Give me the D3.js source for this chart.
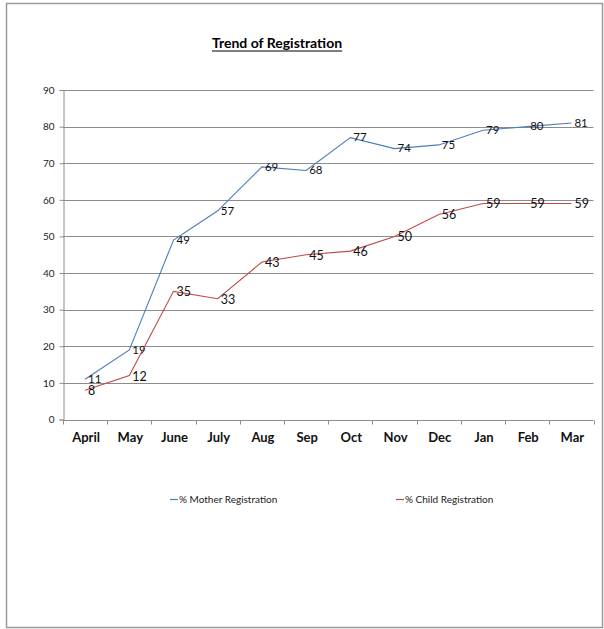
<!DOCTYPE html>
<html>
<head>
<meta charset="utf-8">
<script src="https://cdn.jsdelivr.net/npm/d3@7"></script>
<style>
  html, body { margin: 0; padding: 0; background: #fff; }
  svg { display: block; font-family: Lato, "Open Sans", sans-serif; }
</style>
</head>
<body>
<svg id="chart" width="604" height="629"></svg>
<script>
// Monthly registration percentages
const months = ["April", "May", "June", "July", "Aug", "Sep", "Oct", "Nov", "Dec", "Jan", "Feb", "Mar"];
const motherReg = [11, 19, 49, 57, 69, 68, 77, 74, 75, 79, 80, 81];
const childReg = [8, 12, 35, 33, 43, 45, 46, 50, 56, 59, 59, 59];
const yTicks = [0, 10, 20, 30, 40, 50, 60, 70, 80, 90];
const seriesNames = ["% Mother Registration", "% Child Registration"];

const svg = d3.select("#chart");

// outer frame
svg.append("rect")
  .attr("x", 6.5).attr("y", 3.5)
  .attr("width", 596).attr("height", 624)
  .attr("fill", "none").attr("stroke", "#9a9a9a").attr("stroke-width", 1.5);

const plot = { left: 63, right: 593.5, top: 90, bottom: 419.5 };

const x = d3.scaleBand().domain(months).range([plot.left, plot.right]).paddingInner(0).paddingOuter(0);
const y = d3.scaleLinear().domain([0, 90]).range([plot.bottom, plot.top]);

// title
const title = svg.append("text")
  .attr("x", 277).attr("y", 48)
  .attr("text-anchor", "middle")
  .attr("font-size", 14).attr("font-weight", "bold")
  .attr("fill", "#000")
  .text("Trend of Registration");
const tb = title.node().getBBox();
svg.append("line")
  .attr("x1", tb.x).attr("x2", tb.x + tb.width)
  .attr("y1", 51).attr("y2", 51)
  .attr("stroke", "#000").attr("stroke-width", 1);

// horizontal gridlines
svg.append("g")
  .selectAll("line")
  .data(yTicks.filter(d => d > 0))
  .join("line")
  .attr("x1", plot.left).attr("x2", plot.right)
  .attr("y1", d => Math.round(y(d)) + 0.5).attr("y2", d => Math.round(y(d)) + 0.5)
  .attr("stroke", "#8c8c8c").attr("stroke-width", 1);

// y axis
const yAxis = svg.append("g")
  .attr("transform", `translate(${plot.left + 0.5},0)`)
  .call(d3.axisLeft(y).tickValues(yTicks).tickSize(4).tickPadding(5));
yAxis.select(".domain").attr("stroke", "#8c8c8c");
yAxis.selectAll(".tick line").attr("stroke", "#8c8c8c");
yAxis.selectAll(".tick text").attr("font-size", 10).attr("fill", "#222")
  .attr("font-family", "Lato, sans-serif");

// x axis with ticks between categories
const xAxisG = svg.append("g")
  .attr("transform", `translate(0,${Math.round(plot.bottom) + 0.5})`);
xAxisG.append("line")
  .attr("x1", plot.left).attr("x2", plot.right)
  .attr("stroke", "#8c8c8c");
xAxisG.selectAll("line.tick")
  .data(months.map(m => x(m)).concat([plot.right]))
  .join("line")
  .attr("class", "tick")
  .attr("x1", d => Math.round(d) + 0.5).attr("x2", d => Math.round(d) + 0.5)
  .attr("y1", 0).attr("y2", 4)
  .attr("stroke", "#8c8c8c");
xAxisG.selectAll("text")
  .data(months)
  .join("text")
  .attr("x", d => x(d) + x.bandwidth() / 2 + 1)
  .attr("y", 21)
  .attr("text-anchor", "middle")
  .attr("font-size", 13).attr("font-weight", "bold").attr("fill", "#111")
  .text(d => d);

const cx = d => x(d) + x.bandwidth() / 2;
const line = d3.line().x(d => cx(d.m)).y(d => y(d.v));

const series = [
  { name: seriesNames[0], values: motherReg, color: "#4a7ebb", fs: 11.5, dy: 3.8 },
  { name: seriesNames[1], values: childReg, color: "#be4b48", fs: 12.5, dy: 5 }
];

series.forEach(s => {
  const pts = months.map((m, i) => ({ m, v: s.values[i] }));
  svg.append("path")
    .datum(pts)
    .attr("d", line)
    .attr("fill", "none")
    .attr("stroke", s.color)
    .attr("stroke-width", 1.1);
  svg.append("g")
    .selectAll("text")
    .data(pts)
    .join("text")
    .attr("x", d => cx(d.m) + 3)
    .attr("y", d => y(d.v) + s.dy)
    .attr("font-size", s.fs)
    .attr("fill", "#111")
    .text(d => d.v);
});

// legend
const legendItems = [
  { name: seriesNames[0], color: "#4a7ebb", x: 170 },
  { name: seriesNames[1], color: "#be4b48", x: 396 }
];
const lg = svg.append("g");
legendItems.forEach(it => {
  lg.append("line")
    .attr("x1", it.x).attr("x2", it.x + 8)
    .attr("y1", 499.5).attr("y2", 499.5)
    .attr("stroke", it.color).attr("stroke-width", 1.2);
  lg.append("text")
    .attr("x", it.x + 9).attr("y", 503)
    .attr("font-size", 10).attr("fill", "#222")
    .text(it.name);
});
</script>
</body>
</html>
